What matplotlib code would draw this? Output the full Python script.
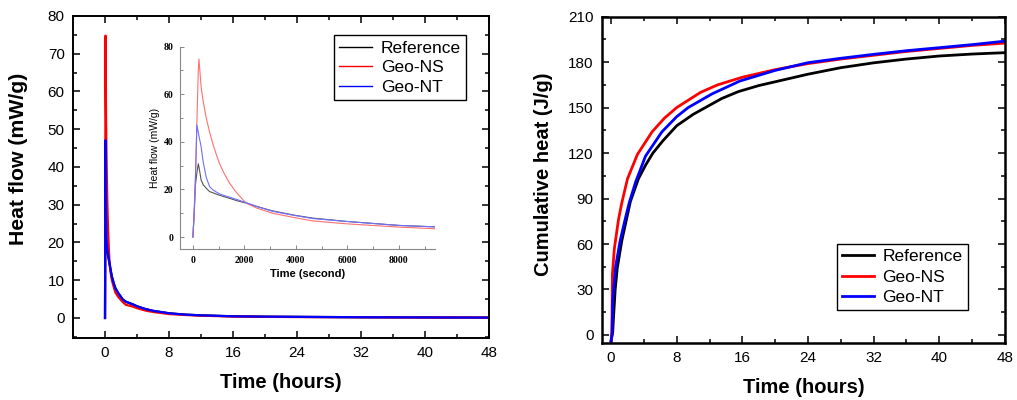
import numpy as np
import matplotlib
matplotlib.use("Agg")
import matplotlib.pyplot as plt
from matplotlib.ticker import MultipleLocator

plt.rcParams['font.family'] = ['Liberation Sans', 'DejaVu Sans']

# --- heat flow, first ~2.6 h (seconds) ---
flow_t_s = [0, 50, 100, 155, 210, 235, 320, 400, 520, 650, 780, 900, 1030,
            1200, 1420, 1700, 2060, 2500, 3100, 3940, 4640, 5940, 8000, 9400]
ref_flow = [0, 10, 22, 27, 30.8, 29.5, 24, 22, 20.5, 19.1, 18.6, 18.1, 17.6,
            17, 16.3, 15.3, 14.3, 12.8, 11, 9.2, 8, 6.6, 4.9, 4.3]
ns_flow = [0, 10, 25, 48, 70, 74.8, 63, 57, 50, 44, 39, 35, 31,
           27, 22.7, 18.6, 14.3, 12.1, 10, 8.2, 6.8, 5.6, 4.2, 3.5]
nt_flow = [0, 10, 25, 47.1, 44, 42.5, 38, 31.5, 25, 21.2, 19.8, 19, 18.2,
           17.5, 16.8, 15.8, 14.5, 12.8, 10.8, 9.1, 7.8, 6.6, 4.9, 4.3]

# --- heat flow tail (hours) ---
tail_t_h = [3.5, 4, 5, 6, 8, 10, 12, 16, 20, 24, 32, 40, 48]
ref_tail = [3.6, 3.1, 2.4, 1.9, 1.25, 0.9, 0.7, 0.45, 0.35, 0.3, 0.2, 0.15, 0.1]
ns_tail = [3.0, 2.6, 2.0, 1.6, 1.05, 0.8, 0.6, 0.4, 0.3, 0.25, 0.2, 0.15, 0.1]
nt_tail = [3.6, 3.1, 2.4, 1.9, 1.25, 0.9, 0.7, 0.45, 0.35, 0.3, 0.2, 0.15, 0.1]

# --- cumulative heat (hours, J/g) ---
ref_cum_t = [0, 0.2, 0.3, 0.5, 0.75, 1.3, 2.35, 3.33, 4.2, 5.1, 6.3, 8, 10,
             11.5, 13.5, 15.5, 18, 20, 24, 28, 32, 36, 40, 44, 48]
ref_cum = [-4, 2, 12, 30, 44, 62, 88, 103, 112, 120, 128, 138, 145.5,
           150, 156, 160.5, 164.5, 167, 172, 176.3, 179.5, 182, 184, 185.3, 186.2]
ns_cum_t = [0, 0.1, 0.16, 0.4, 0.9, 1.3, 2.0, 3.2, 5.0, 6.5, 8.0, 10.9, 13,
            16, 20, 24, 28, 32, 36, 40, 44, 48]
ns_cum = [-4, 2, 40, 57, 76, 87, 103, 119, 134, 143, 150, 160, 165,
          170, 175, 179, 182, 184.5, 187, 189, 191, 192.5]
nt_cum_t = [0, 0.12, 0.2, 0.55, 1.1, 1.7, 2.2, 3.0, 4.2, 6.2, 8, 9.4, 12.3,
            15.7, 20, 24, 28, 32, 36, 40, 44, 48]
nt_cum = [-4, 1, 23, 45, 62, 76, 87, 101, 118, 134, 144, 150, 159,
          167.5, 174.5, 179.6, 182.5, 185.1, 187.5, 189.5, 191.5, 193.8]

labels = ['Reference', 'Geo-NS', 'Geo-NT']
colors = ['black', 'red', 'blue']

fig = plt.figure(figsize=(10.17, 4.0), dpi=100)


def style_axes(ax, lw):
    for s in ax.spines.values():
        s.set_linewidth(lw)
    ax.tick_params(which='both', direction='in', top=True, right=True,
                   labelsize=11, width=1.1)
    ax.tick_params(which='major', length=5, pad=6)
    ax.tick_params(which='minor', length=3)


# left: heat flow
ax1 = fig.add_axes([0.0718, 0.155, 0.409, 0.805])
t_main = [np.array(flow_t_s) / 3600.0, np.array(tail_t_h)]
flows = [(ref_flow, ref_tail), (ns_flow, ns_tail), (nt_flow, nt_tail)]
for (f, tl), c, lab in zip(flows, colors, labels):
    ax1.plot(np.concatenate(t_main), np.concatenate([f, tl]), color=c,
             lw=1.6, label=lab)
ax1.set_xlim(-4, 48)
ax1.set_ylim(-5.3, 80)
ax1.xaxis.set_major_locator(MultipleLocator(8))
ax1.xaxis.set_minor_locator(MultipleLocator(4))
ax1.yaxis.set_major_locator(MultipleLocator(10))
ax1.yaxis.set_minor_locator(MultipleLocator(5))
style_axes(ax1, 1.4)
ax1.set_xlabel('Time (hours)', fontsize=14.5, fontweight='bold', labelpad=9)
ax1.set_ylabel('Heat flow (mW/g)', fontsize=15.3, fontweight='bold')
ax1.yaxis.set_label_coords(-0.108, 0.556)
leg1 = ax1.legend(loc='upper right', bbox_to_anchor=(0.945, 0.94), fontsize=12.5,
                  handlelength=1.9, handletextpad=0.5, labelspacing=0.25,
                  borderpad=0.3, borderaxespad=0,
                  fancybox=False, framealpha=1, edgecolor='black')
leg1.get_frame().set_linewidth(1.0)
for h in leg1.get_lines():
    h.set_linewidth(1.0)

# inset
axi = fig.add_axes([0.177, 0.3775, 0.2507, 0.506])
inset_colors = ['#555555', '#ff7070', '#6f6fff']
for f, c in zip([ref_flow, ns_flow, nt_flow], inset_colors):
    axi.plot(flow_t_s, f, color=c, lw=0.8)
axi.set_xlim(-500, 9400)
axi.set_ylim(-5, 80)
axi.spines['top'].set_visible(False)
axi.spines['right'].set_visible(False)
for s in ['left', 'bottom']:
    axi.spines[s].set_color('#888888')
    axi.spines[s].set_linewidth(0.8)
axi.xaxis.set_major_locator(MultipleLocator(2000))
axi.xaxis.set_minor_locator(MultipleLocator(1000))
axi.yaxis.set_major_locator(MultipleLocator(20))
axi.yaxis.set_minor_locator(MultipleLocator(10))
axi.tick_params(which='both', direction='in', color='#888888', width=0.7)
axi.tick_params(which='major', length=3, pad=5)
axi.tick_params(which='minor', length=2)
for lbl in axi.get_xticklabels() + axi.get_yticklabels():
    lbl.set_family('Liberation Serif')
    lbl.set_fontweight('bold')
    lbl.set_fontsize(7)
axi.patch.set_alpha(0)
axi.set_xlabel('Time (second)', fontsize=8, fontweight='bold', labelpad=3)
axi.set_ylabel('Heat flow (mW/g)', fontsize=7.5, labelpad=2)

# right: cumulative heat
ax2 = fig.add_axes([0.592, 0.1425, 0.396, 0.816])
cums = [(ref_cum_t, ref_cum), (ns_cum_t, ns_cum), (nt_cum_t, nt_cum)]
for (t, v), c, lab in zip(cums, colors, labels):
    ax2.plot(t, v, color=c, lw=2.0, label=lab)
ax2.set_xlim(-1.1, 48)
ax2.set_ylim(-5.3, 210)
ax2.xaxis.set_major_locator(MultipleLocator(8))
ax2.xaxis.set_minor_locator(MultipleLocator(4))
ax2.yaxis.set_major_locator(MultipleLocator(30))
ax2.yaxis.set_minor_locator(MultipleLocator(15))
style_axes(ax2, 1.8)
ax2.set_xlabel('Time (hours)', fontsize=14.5, fontweight='bold', labelpad=9)
ax2.set_ylabel('Cumulative heat (J/g)', fontsize=14.5, fontweight='bold')
ax2.yaxis.set_label_coords(-0.122, 0.518)
leg2 = ax2.legend(loc='lower right', bbox_to_anchor=(0.908, 0.1), fontsize=12.5,
                  handlelength=1.8, handletextpad=0.5, labelspacing=0.3,
                  borderpad=0.3, borderaxespad=0,
                  fancybox=False, framealpha=1, edgecolor='black')
leg2.get_frame().set_linewidth(1.0)

fig.savefig('out.png', dpi=100)
